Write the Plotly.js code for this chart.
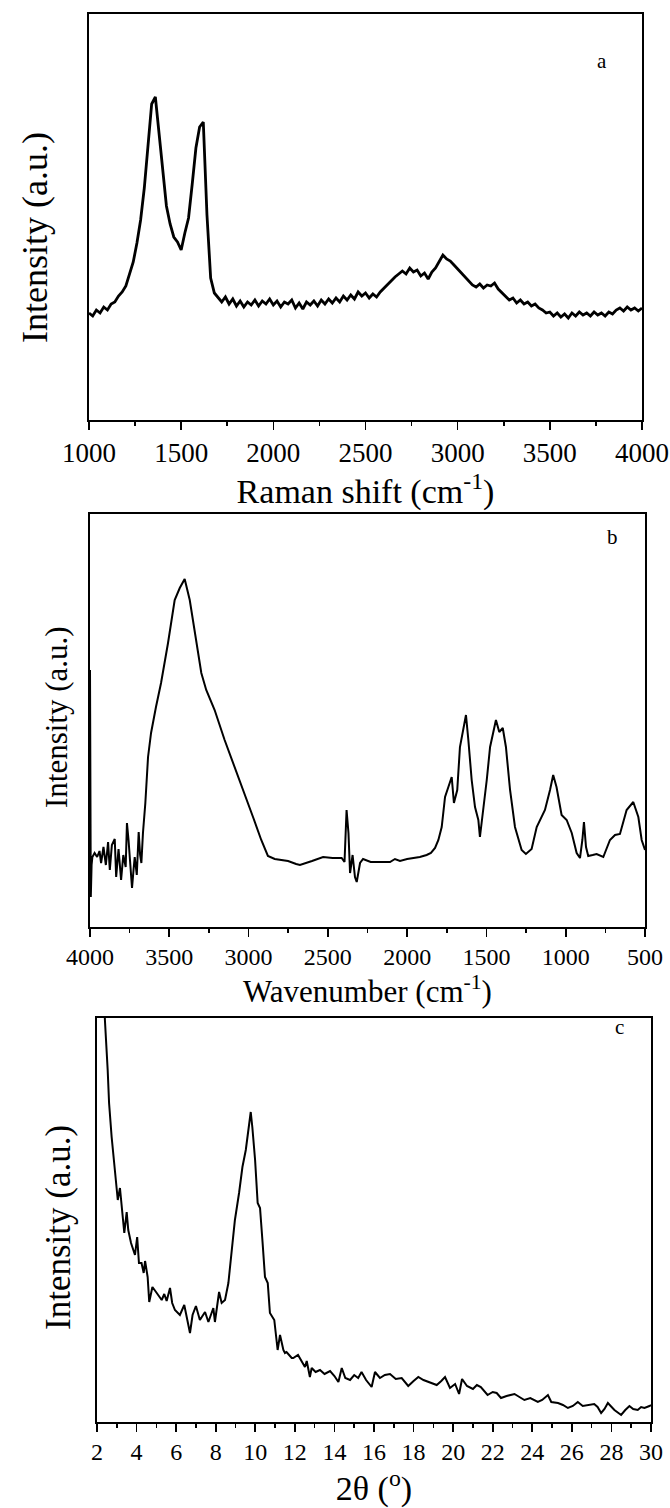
<!DOCTYPE html>
<html>
<head>
<meta charset="utf-8">
<script src="https://cdn.plot.ly/plotly-3.0.1.min.js"></script>
<style>html,body{margin:0;padding:0;background:#fff;}#chart{width:670px;height:1508px;}</style>
</head>
<body>
<div id="chart"></div>
<script>
// ---------- Panel a: Raman spectrum ----------
const ramanStart = 1000;
const ramanStep = 20;
const ramanIntensity = [
 107,104,110,107,113,110,116,118,124,128,
 134,145,158,177,200,232,272,316,323,286,
 244,214,196,183,178,170,187,202,236,272,
 293,298,205,142,127,123,118,123,116,121,
 114,119,113,118,115,120,114,119,116,121,
 115,119,113,118,116,120,112,117,111,118,
 115,119,114,120,116,121,117,122,118,124,
 120,125,121,128,124,127,122,126,123,128,
 132,135,139,143,146,149,146,152,148,150,
 144,147,141,148,152,158,165,161,159,155,
 151,147,143,138,135,133,136,132,135,134,
 137,131,127,123,120,122,117,120,116,118,
 114,116,112,110,107,108,104,107,103,106,
 102,107,104,108,105,107,104,108,105,107,
 104,108,106,110,112,109,113,110,112,109,
 112
];
const ramanShift = ramanIntensity.map((_, i) => ramanStart + ramanStep * i);

// ---------- Panel b: FTIR spectrum ----------
const irWavenumber = [4000,3995,3990,3985,3971,3955,3940,3930,3915,3900,3886,3875,3862,3844,3835,3820,3804,3790,3775,3767,3757,3745,3735,3725,3718,3705,3693,3684,3676,3666,3651,3634,3615,3584,3552,3508,3466,3434,3403,3371,3340,3298,3267,3214,3151,3088,3024,2972,2920,2878,2835,2790,2751,2700,2676,2600,2530,2470,2413,2395,2382,2370,2360,2344,2329,2318,2297,2278,2230,2171,2108,2077,2045,2000,1963,1920,1877,1850,1824,1803,1782,1761,1740,1719,1705,1684,1667,1650,1629,1614,1593,1572,1551,1541,1520,1498,1477,1456,1440,1419,1397,1377,1351,1320,1278,1251,1215,1183,1131,1099,1079,1058,1026,994,962,931,910,895,885,872,858,830,805,763,721,689,658,616,574,542,521,500];
const irIntensity = [257,30,62,70,74,70,76,64,80,62,85,57,82,88,50,78,47,72,60,104,87,60,39,58,70,52,95,72,64,94,124,170,194,220,244,284,327,339,348,327,294,254,237,217,187,160,134,110,87,71,68,67,66,63,62,66,70,69,69,65,117,94,54,72,50,45,64,68,65,65,65,68,66,68,69,70,72,74,79,87,100,130,140,150,124,137,180,194,212,187,147,120,107,90,117,147,180,194,207,195,199,180,137,100,77,73,78,100,117,137,152,140,112,107,94,74,69,87,105,80,71,72,73,70,87,92,93,117,125,110,87,77];

// ---------- Panel c: XRD pattern ----------
const twoTheta = [2.30,2.40,2.54,2.61,2.74,2.91,3.05,3.16,3.27,3.38,3.50,3.58,3.72,3.92,4.03,4.12,4.25,4.36,4.43,4.56,4.64,4.80,5.02,5.17,5.27,5.40,5.52,5.69,5.80,5.94,6.19,6.41,6.53,6.70,6.83,7.00,7.20,7.46,7.63,7.88,7.96,8.17,8.30,8.47,8.64,8.81,8.97,9.18,9.35,9.52,9.65,9.77,9.85,9.99,10.12,10.24,10.37,10.49,10.63,10.74,10.96,11.13,11.25,11.42,11.50,11.58,11.84,11.92,12.16,12.51,12.60,12.76,12.85,13.05,13.27,13.50,13.78,14.00,14.20,14.37,14.55,14.79,15.00,15.20,15.37,15.60,15.88,16.05,16.30,16.55,16.81,17.10,17.40,17.73,18.00,18.24,18.50,18.80,19.17,19.40,19.59,19.84,20.10,20.30,20.45,20.70,21.00,21.20,21.40,21.74,22.00,22.20,22.42,22.70,23.10,23.35,23.60,23.90,24.28,24.50,24.79,24.96,25.30,25.55,25.80,26.05,26.30,26.55,26.80,27.13,27.30,27.48,27.65,27.82,28.15,28.49,28.70,28.91,29.10,29.33,29.50,29.67,29.92,30.00];
const xrdIntensity = [460,402,352,319,285,252,222,234,212,189,210,192,179,167,185,159,159,149,161,145,120,135,129,125,122,128,121,134,119,112,107,117,104,89,107,116,102,110,100,114,100,130,119,122,139,172,202,229,255,272,292,310,295,262,219,214,179,145,139,109,102,72,87,72,69,70,64,64,67,55,61,45,54,50,52,48,51,46,40,54,44,42,47,44,50,42,35,50,44,47,48,43,44,36,41,45,42,40,37,41,45,34,38,28,43,36,33,37,35,27,30,29,24,26,28,25,22,24,20,22,27,20,19,17,14,16,20,16,17,18,15,9,13,19,12,7,12,16,13,12,15,14,16,17];

const panelLabels = ['a', 'b', 'c'];
const yTitle = 'Intensity (a.u.)';
const ramanTicks = [1000,1500,2000,2500,3000,3500,4000];
const irTicks = [4000,3500,3000,2500,2000,1500,1000,500];
const xrdTicks = [2,4,6,8,10,12,14,16,18,20,22,24,26,28,30];

const W = 670, H = 1508;
const FONT = '"Liberation Serif", "Times New Roman", Times, "DejaVu Serif", serif';
const fx = (a, b) => [a / W, b / W];
const fy = (top, bottom) => [1 - bottom / H, 1 - top / H];

const traces = [
  {x: ramanShift, y: ramanIntensity, type: 'scatter', mode: 'lines', line: {color: '#000', width: 2.8}, xaxis: 'x', yaxis: 'y', hoverinfo: 'skip'},
  {x: irWavenumber, y: irIntensity, type: 'scatter', mode: 'lines', line: {color: '#000', width: 2}, xaxis: 'x2', yaxis: 'y2', hoverinfo: 'skip'},
  {x: twoTheta, y: xrdIntensity, type: 'scatter', mode: 'lines', line: {color: '#000', width: 2}, xaxis: 'x3', yaxis: 'y3', hoverinfo: 'skip'}
];

function xAx(domain, anchor, range, ticks, minorDtick, tickSize, title, titleSize, standoff) {
  return {
    domain, anchor, range, tickmode: 'array', tickvals: ticks, ticktext: ticks.map(String),
    ticks: 'outside', ticklen: 8, tickwidth: 1.6, tickcolor: '#000',
    minor: {dtick: minorDtick, ticks: 'outside', ticklen: 4, tickwidth: 1.6, tickcolor: '#000', showgrid: false},
    showline: true, linecolor: '#000', linewidth: 1.6, mirror: true,
    showgrid: false, zeroline: false,
    tickfont: {family: FONT, size: tickSize, color: '#000'},
    title: {text: title, font: {family: FONT, size: titleSize, color: '#000'}, standoff}
  };
}
function yAx(domain, anchor, range) {
  return {
    domain, anchor, range, showticklabels: false, ticks: '',
    showline: true, linecolor: '#000', linewidth: 1.6, mirror: true,
    showgrid: false, zeroline: false
  };
}
function yTitleAnn(xpx, ypx, size) {
  return {text: yTitle, xref: 'paper', yref: 'paper', x: xpx / W, y: 1 - ypx / H,
          xanchor: 'center', yanchor: 'middle', textangle: -90, showarrow: false,
          font: {family: FONT, size, color: '#000'}};
}
function labelAnn(text, xpx, ypx) {
  return {text, xref: 'paper', yref: 'paper', x: xpx / W, y: 1 - ypx / H, showarrow: false,
          font: {family: FONT, size: 21, color: '#000'}};
}

const layout = {
  width: W, height: H,
  margin: {l: 0, r: 0, t: 0, b: 0},
  paper_bgcolor: '#fff', plot_bgcolor: '#fff',
  showlegend: false,
  font: {family: FONT, color: '#000'},
  xaxis: xAx(fx(89, 642), 'y', [1000, 4000], ramanTicks, 250, 27, 'Raman shift (cm<sup>-1</sup>)', 34, 0),
  yaxis: yAx(fy(14, 420), 'x', [0, 406]),
  xaxis2: xAx(fx(90, 645), 'y2', [4000, 500], irTicks, 250, 24, 'Wavenumber (cm<sup>-1</sup>)', 31, 1),
  yaxis2: yAx(fy(514, 927), 'x2', [0, 413]),
  xaxis3: xAx(fx(97, 651), 'y3', [2, 30], xrdTicks, 1, 24, '2θ (<sup>o</sup>)', 34, 2),
  yaxis3: yAx(fy(1018, 1422), 'x3', [0, 404]),
  annotations: [
    yTitleAnn(35, 238, 36),
    yTitleAnn(56, 717, 31),
    yTitleAnn(58, 1228, 35),
    labelAnn(panelLabels[0], 609, 47),
    labelAnn(panelLabels[1], 620, 537),
    labelAnn(panelLabels[2], 626, 1041)
  ]
};

Plotly.newPlot('chart', traces, layout, {staticPlot: true, displayModeBar: false});
</script>
</body>
</html>
